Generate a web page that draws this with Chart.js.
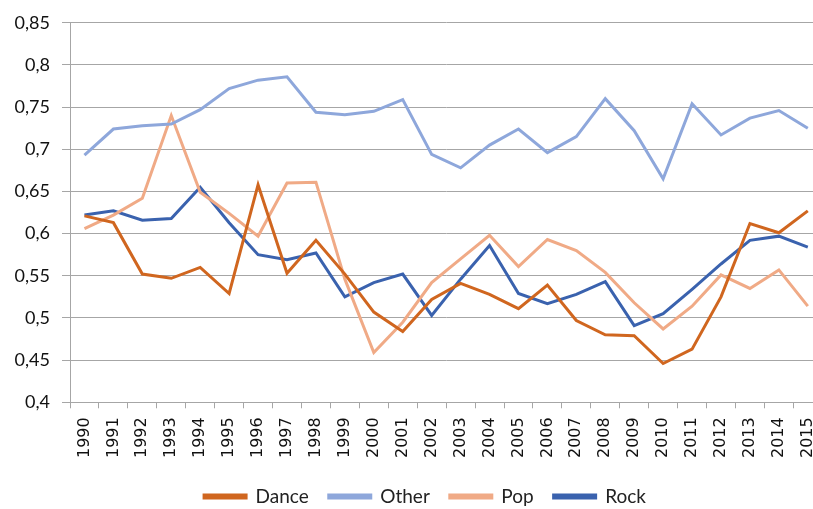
<!DOCTYPE html>
<html>
<head>
<meta charset="utf-8">
<script src="https://cdn.jsdelivr.net/npm/chart.js@4"></script>
<style>
  html, body { margin: 0; padding: 0; overflow: hidden; background: #fff; }
  #wrap { width: 836px; height: 518px; }
</style>
</head>
<body>
<div id="wrap"><canvas id="genreChart"></canvas></div>
<script>
const years = ["1990","1991","1992","1993","1994","1995","1996","1997","1998","1999","2000","2001","2002",
  "2003","2004","2005","2006","2007","2008","2009","2010","2011","2012","2013","2014","2015"];

const dance = [0.621, 0.613, 0.552, 0.547, 0.560, 0.529, 0.658, 0.553, 0.592, 0.552, 0.507, 0.484, 0.522,
  0.541, 0.528, 0.511, 0.539, 0.497, 0.480, 0.479, 0.446, 0.463, 0.525, 0.612, 0.601, 0.627];
const other = [0.693, 0.724, 0.728, 0.730, 0.747, 0.772, 0.782, 0.786, 0.744, 0.741, 0.745, 0.759, 0.694,
  0.678, 0.705, 0.724, 0.696, 0.715, 0.760, 0.722, 0.665, 0.754, 0.717, 0.737, 0.746, 0.725];
const pop = [0.606, 0.622, 0.642, 0.740, 0.649, 0.624, 0.597, 0.660, 0.661, 0.546, 0.459, 0.495, 0.542,
  0.570, 0.598, 0.561, 0.593, 0.580, 0.554, 0.518, 0.487, 0.514, 0.551, 0.535, 0.557, 0.514];
const rock = [0.622, 0.627, 0.616, 0.618, 0.655, 0.613, 0.575, 0.569, 0.577, 0.525, 0.542, 0.552, 0.503,
  0.546, 0.586, 0.529, 0.517, 0.528, 0.543, 0.491, 0.505, 0.534, 0.564, 0.592, 0.597, 0.584];

function series(label, data, color) {
  return {
    label: label,
    data: data,
    borderColor: color,
    backgroundColor: color,
    borderWidth: 3,
    pointRadius: 0,
    tension: 0
  };
}

// canvas is wider than the window (plot runs off the right edge),
// so pull the legend back toward the visible centre
const nudgeLegend = {
  id: "nudgeLegend",
  afterLayout(chart) {
    if (chart.legend) chart.legend.left += 12;
  }
};

const ctx = document.getElementById("genreChart").getContext("2d");
new Chart(ctx, {
  type: "line",
  data: {
    labels: years,
    datasets: [
      series("Dance", dance, "#D0661F"),
      series("Other", other, "#8EA7DB"),
      series("Pop", pop, "#F0AA86"),
      series("Rock", rock, "#3A62AE")
    ]
  },
  plugins: [nudgeLegend],
  options: {
    responsive: true,
    maintainAspectRatio: false,
    animation: false,
    layout: {
      padding: { top: 4, left: 2, right: 0, bottom: 2 }
    },
    plugins: {
      legend: {
        position: "bottom",
        labels: {
          font: { family: "Lato", size: 19 },
          color: "#222",
          boxWidth: 42,
          boxHeight: 3,
          padding: 20
        }
      },
      tooltip: { enabled: false }
    },
    scales: {
      x: {
        offset: true,
        grid: {
          offset: true,
          drawOnChartArea: false,
          color: "#A6A6A6",
          tickLength: 6
        },
        border: { color: "#A6A6A6" },
        ticks: {
          minRotation: 90,
          maxRotation: 90,
          autoSkip: false,
          color: "#111",
          font: { family: "DejaVu Sans", size: 16 },
          padding: 9
        }
      },
      y: {
        min: 0.4,
        max: 0.85,
        afterFit: scale => { scale.width = 68; },
        grid: {
          color: "#A6A6A6",
          tickLength: 8
        },
        border: { color: "#A6A6A6" },
        ticks: {
          stepSize: 0.05,
          color: "#111",
          font: { family: "Lato", size: 18 },
          padding: 12,
          callback: v => String(Math.round(v * 100) / 100).replace(".", ",")
        }
      }
    }
  }
});
</script>
</body>
</html>
